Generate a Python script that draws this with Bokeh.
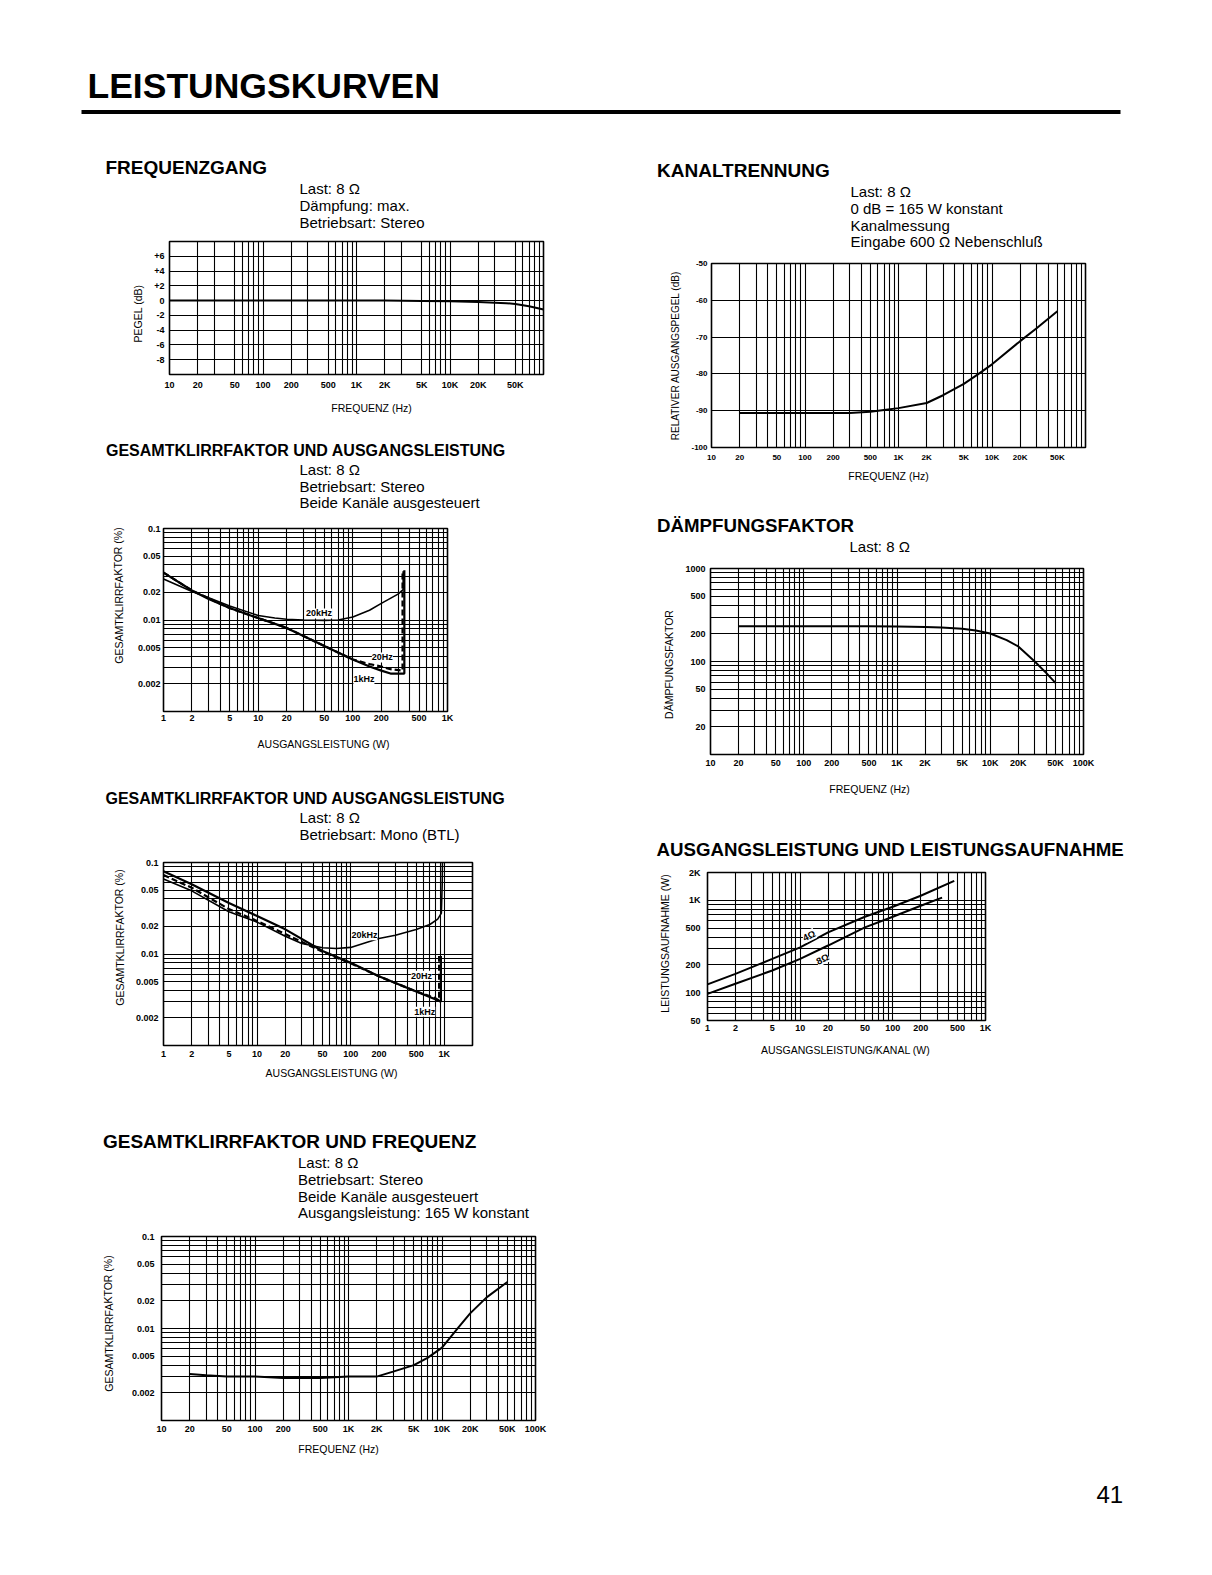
import math
from bokeh.plotting import figure
from bokeh.models import Range1d, FixedTicker, Label, ColumnDataSource, Spacer
from bokeh.layouts import column, row
from bokeh.embed import file_html
from bokeh.resources import INLINE
from bokeh.core.properties import value

FONT = "Liberation Sans"

# ------------------------------------------------------------------ data
page_title = "LEISTUNGSKURVEN"
page_number = "41"

freq_ticks = [10, 20, 50, 100, 200, 500, 1000, 2000, 5000, 10000, 20000, 50000, 100000]
freq_labels = ["10", "20", "50", "100", "200", "500", "1K", "2K", "5K", "10K", "20K", "50K", "100K"]
watt_ticks = [1, 2, 5, 10, 20, 50, 100, 200, 500, 1000]
watt_labels = ["1", "2", "5", "10", "20", "50", "100", "200", "500", "1K"]
thd_ticks = [0.1, 0.05, 0.02, 0.01, 0.005, 0.002]
thd_labels = ["0.1", "0.05", "0.02", "0.01", "0.005", "0.002"]

# 1 Frequenzgang
fg_title = "FREQUENZGANG"
fg_notes = ["Last: 8 Ω", "Dämpfung: max.", "Betriebsart: Stereo"]
fg_freq = [10, 20, 50, 100, 200, 500, 1000, 2000, 5000, 10000, 20000, 40000, 50000, 70000, 100000]
fg_level = [0.0, 0.0, 0.0, 0.0, 0.0, 0.0, 0.0, 0.0, -0.05, -0.1, -0.2, -0.35, -0.45, -0.75, -1.2]
fg_yticks = [6, 4, 2, 0, -2, -4, -6, -8]
fg_ylabels = ["+6", "+4", "+2", "0", "-2", "-4", "-6", "-8"]

# 2 THD vs output power, stereo
st_title = "GESAMTKLIRRFAKTOR UND AUSGANGSLEISTUNG"
st_notes = ["Last: 8 Ω", "Betriebsart: Stereo", "Beide Kanäle ausgesteuert"]
st_w_1k = [1, 2, 3, 5, 10, 20, 50, 100, 150, 200, 250, 350, 350]
st_thd_1k = [0.033, 0.021, 0.017, 0.0135, 0.0105, 0.0082, 0.0052, 0.0037, 0.0031, 0.0028, 0.0026, 0.0026, 0.035]
st_w_20 = [1, 2, 5, 10, 20, 50, 100, 150, 200, 250, 335, 335]
st_thd_20 = [0.033, 0.021, 0.0135, 0.0105, 0.0082, 0.0052, 0.0037, 0.0033, 0.0031, 0.0029, 0.0028, 0.034]
st_w_20k = [1, 2, 3, 5, 10, 15, 20, 30, 50, 70, 100, 150, 200, 300, 340, 340]
st_thd_20k = [0.028, 0.0205, 0.0175, 0.0142, 0.0112, 0.0105, 0.0102, 0.0100, 0.0099, 0.0100,
              0.0108, 0.0128, 0.0152, 0.0192, 0.0215, 0.034]
st_curve_names = ["20kHz", "20Hz", "1kHz"]
st_name_w = [44, 205, 131]
st_name_thd = [0.0118, 0.0039, 0.00227]

# 3 THD vs output power, mono (BTL)
mo_title = "GESAMTKLIRRFAKTOR UND AUSGANGSLEISTUNG"
mo_notes = ["Last: 8 Ω", "Betriebsart: Mono (BTL)"]
mo_w_1k = [1, 2, 5, 10, 20, 50, 100, 200, 500, 800, 920, 920]
mo_thd_1k = [0.08, 0.058, 0.036, 0.026, 0.0186, 0.0108, 0.008, 0.0057, 0.0039, 0.0032, 0.003, 0.0095]
mo_w_20 = [1, 2, 5, 10, 20, 50, 100, 200, 500, 800, 880, 880]
mo_thd_20 = [0.073, 0.053, 0.031, 0.023, 0.0165, 0.0106, 0.0079, 0.0057, 0.0039, 0.0033, 0.0031, 0.0095]
mo_w_20k = [1, 2, 5, 10, 20, 30, 50, 70, 100, 200, 300, 500, 700, 850, 930, 950, 955]
mo_thd_20k = [0.066, 0.049, 0.029, 0.0223, 0.0156, 0.013, 0.0117, 0.0115, 0.0118, 0.0148,
              0.016, 0.0185, 0.021, 0.024, 0.028, 0.06, 0.1]
mo_curve_names = ["20kHz", "20Hz", "1kHz"]
mo_name_w = [140, 569, 618]
mo_name_thd = [0.016, 0.0058, 0.00234]

# 4 THD vs frequency
tf_title = "GESAMTKLIRRFAKTOR UND FREQUENZ"
tf_notes = ["Last: 8 Ω", "Betriebsart: Stereo", "Beide Kanäle ausgesteuert",
            "Ausgangsleistung: 165 W konstant"]
tf_freq = [20, 30, 50, 100, 200, 500, 1000, 2000, 3000, 5000, 7000, 10000, 15000, 20000, 30000, 50000]
tf_thd = [0.0032, 0.0031, 0.003, 0.003, 0.0029, 0.0029, 0.003, 0.003, 0.0034, 0.004, 0.0048,
          0.0062, 0.0103, 0.0146, 0.0218, 0.032]

# 5 Kanaltrennung
kt_title = "KANALTRENNUNG"
kt_notes = ["Last: 8 Ω", "0 dB = 165 W konstant", "Kanalmessung", "Eingabe 600 Ω Nebenschluß"]
kt_freq = [20, 50, 100, 200, 300, 500, 700, 1000, 2000, 3000, 5000, 7000, 10000, 20000, 30000, 50000]
kt_level = [-90.6, -90.6, -90.6, -90.6, -90.6, -90.3, -89.8, -89.3, -87.9, -85.8, -82.7, -80.2,
            -77.4, -71.1, -67.6, -63.0]
kt_yticks = [-50, -60, -70, -80, -90, -100]
kt_ylabels = ["-50", "-60", "-70", "-80", "-90", "-100"]

# 6 Dämpfungsfaktor
df_title = "DÄMPFUNGSFAKTOR"
df_notes = ["Last: 8 Ω"]
df_freq = [20, 100, 500, 1000, 2000, 3000, 5000, 7000, 10000, 15000, 20000, 30000, 40000, 50000]
df_factor = [240, 240, 240, 238, 235, 232, 225, 215, 200, 170, 145, 100, 75, 59]
df_yticks = [1000, 500, 200, 100, 50, 20]
df_ylabels = ["1000", "500", "200", "100", "50", "20"]

# 7 Ausgangsleistung und Leistungsaufnahme
pa_title = "AUSGANGSLEISTUNG UND LEISTUNGSAUFNAHME"
pa_w_4 = [1, 2, 5, 10, 20, 50, 100, 200, 460]
pa_p_4 = [123, 160, 232, 310, 450, 664, 851, 1120, 1626]
pa_w_8 = [1, 2, 5, 10, 20, 50, 100, 200, 340]
pa_p_8 = [97, 125, 174, 232, 324, 509, 664, 873, 1070]
pa_yticks = [2000, 1000, 500, 200, 100, 50]
pa_ylabels = ["2K", "1K", "500", "200", "100", "50"]
pa_curve_names = ["4Ω", "8Ω"]
pa_name_w = [12.5, 17.4]
pa_name_p = [415, 232]


# ------------------------------------------------------------------ helpers
def log_grid(lo, hi, mults=(1, 2, 3, 4, 5, 6, 7, 8, 9)):
    out = []
    d = 10 ** math.floor(math.log10(lo) - 1e-9)
    while d <= hi * 1.0001:
        for m in mults:
            v = round(d * m, 10)
            if lo * 0.9999 <= v <= hi * 1.0001:
                out.append(v)
        d *= 10
    return out


def T(x, y, text, size, bold=False, align="left", angle=0.0):
    """text item; y is the vertical middle of the capitals (page px)"""
    return dict(x=x, y=y, text=text, size=f"{size}px", style="bold" if bold else "normal",
                align=align, angle=angle)


def text_fig(x0, y0, x1, y1, items):
    """blank panel whose frame covers the whole canvas; coordinates = page pixels"""
    p = figure(width=int(x1 - x0), height=int(y1 - y0),
               x_range=Range1d(x0, x1), y_range=Range1d(y1, y0),
               output_backend="svg", toolbar_location=None, min_border=0,
               x_axis_location=None, y_axis_location=None, frame_align=False)
    p.grid.visible = False
    p.outline_line_color = None
    p.background_fill_color = "white"
    p.border_fill_color = "white"
    if items:
        src = ColumnDataSource({k: [it[k] for it in items] for k in items[0]})
        p.text(x="x", y="y", text="text", source=src, text_font=value(FONT),
               text_font_size="size", text_font_style="style", text_align="align",
               text_baseline=value("middle"), angle="angle", text_color="black")
    return p


def chart(cl, ct, cr, cb, frame, xr, yr, xlog, ylog, xgrid, ygrid,
          xticks, xlabels, yticks, ylabels, xlab_c, ylab_r, tick_fs=9.0):
    fl, ft, fr, fb = frame
    p = figure(width=cr - cl, height=cb - ct,
               x_axis_type="log" if xlog else "linear",
               y_axis_type="log" if ylog else "linear",
               x_range=Range1d(*xr), y_range=Range1d(*yr),
               output_backend="svg", toolbar_location=None, frame_align=False,
               min_border_left=fl - cl, min_border_right=cr - fr,
               min_border_top=ft - ct, min_border_bottom=cb - fb)
    p.background_fill_color = "white"
    p.border_fill_color = "white"
    p.outline_line_color = "black"
    p.outline_line_width = 1.6
    xa, ya = p.xaxis[0], p.yaxis[0]
    for ax in (xa, ya):
        ax.major_tick_line_color = None
        ax.minor_tick_line_color = None
        ax.major_tick_out = 0
        ax.major_tick_in = 0
        ax.minor_tick_out = 0
        ax.minor_tick_in = 0
        ax.axis_line_color = None
        ax.major_label_text_font = FONT
        ax.major_label_text_font_style = "bold"
        ax.major_label_text_font_size = f"{tick_fs}px"
        ax.major_label_text_color = "black"
    xa.ticker = FixedTicker(ticks=xticks)
    xa.major_label_overrides = dict(zip(xticks, xlabels))
    ya.ticker = FixedTicker(ticks=yticks)
    ya.major_label_overrides = dict(zip(yticks, ylabels))
    xa.major_label_standoff = max(0, round(xlab_c - fb - 0.547 * tick_fs))
    ya.major_label_standoff = max(0, round(fl - ylab_r))
    p.xgrid[0].ticker = FixedTicker(ticks=xgrid)
    p.ygrid[0].ticker = FixedTicker(ticks=ygrid)
    for g in (p.xgrid[0], p.ygrid[0]):
        g.grid_line_color = "black"
        g.grid_line_width = 1.1
        g.grid_line_alpha = 1.0
    return p


def curve_label(p, x, y, text, size=9, angle=0.0):
    p.add_layout(Label(x=x, y=y, text=text, text_font=FONT, text_font_size=f"{size}px",
                       text_font_style="bold", text_align="center", text_baseline="middle",
                       background_fill_color="white", angle=angle, text_color="black"))


def block(bx0, by0, bx1, by1, cbox, chart_fig, top_items, left_items, bottom_items):
    cl, ct, cr, cb = cbox
    top = text_fig(bx0, by0, bx1, ct, top_items)
    left = text_fig(bx0, ct, cl, cb, left_items)
    right = Spacer(width=bx1 - cr, height=cb - ct)
    bottom = text_fig(bx0, cb, bx1, by1, bottom_items)
    return column(top, row(left, chart_fig, right), bottom)


def notes(x, base0, lines, step=17, size=15):
    return [T(x, base0 + i * step - 0.35 * size, s, size) for i, s in enumerate(lines)]


freq_grid = log_grid(10, 100000)
freq_grid_no4 = log_grid(10, 100000, (1, 2, 3, 5, 6, 7, 8, 9))
thd_grid = log_grid(0.001, 0.1)
ROT = math.pi / 2

# ------------------------------------------------------------------ header
hdr = text_fig(0, 0, 1204, 130, [T(87, 85, page_title, 35.5, bold=True)])
hdr.segment(x0=[81], y0=[111.5], x1=[1120], y1=[111.5], line_width=4, line_color="black")

# ------------------------------------------------------------------ left column
c1 = (146, 236, 560, 396)
f1 = chart(*c1, (169, 241, 543, 374), (10, 100000), (-10, 8), True, False,
           freq_grid_no4, fg_yticks, freq_ticks[:-1], freq_labels[:-1], fg_yticks, fg_ylabels,
           384, 164)
f1.line(fg_freq, fg_level, line_width=2, line_color="black")
b1 = block(0, 130, 600, 425, c1, f1,
           [T(105, 166.5, fg_title, 19, bold=True)] + notes(299, 193, fg_notes),
           [T(137, 313, "PEGEL (dB)", 10.5, align="center", angle=ROT)],
           [T(371, 407, "FREQUENZ (Hz)", 10.5, align="center")])

c2 = (130, 518, 470, 730)
f2 = chart(*c2, (163, 528, 447, 711), (1, 1000), (0.001, 0.1), True, True,
           log_grid(1, 1000), thd_grid, watt_ticks, watt_labels, thd_ticks, thd_labels,
           716.5, 160)
f2.line(st_w_20k, st_thd_20k, line_width=1.6, line_color="black")
f2.line(st_w_1k, st_thd_1k, line_width=2.2, line_color="black")
f2.line(st_w_20, st_thd_20, line_width=2.2, line_color="black", line_dash="6 3")
for n, x, y in zip(st_curve_names, st_name_w, st_name_thd):
    curve_label(f2, x, y, n)
b2 = block(0, 425, 600, 775, c2, f2,
           [T(105.5, 450, st_title, 16, bold=True)] + notes(299, 474, st_notes, step=16.8),
           [T(118, 595, "GESAMTKLIRRFAKTOR (%)", 10.5, align="center", angle=ROT)],
           [T(323, 743, "AUSGANGSLEISTUNG (W)", 10.5, align="center")])

c3 = (130, 848, 490, 1062)
f3 = chart(*c3, (163, 862, 472, 1045), (1, 2000), (0.001, 0.1), True, True,
           log_grid(1, 2000), thd_grid, watt_ticks, watt_labels, thd_ticks, thd_labels,
           1053, 158)
f3.line(mo_w_20k, mo_thd_20k, line_width=1.6, line_color="black")
f3.line(mo_w_1k, mo_thd_1k, line_width=2.2, line_color="black")
f3.line(mo_w_20, mo_thd_20, line_width=2.2, line_color="black", line_dash="6 3")
for n, x, y in zip(mo_curve_names, mo_name_w, mo_name_thd):
    curve_label(f3, x, y, n)
b3 = block(0, 775, 600, 1110, c3, f3,
           [T(105, 797.5, mo_title, 16, bold=True)] + notes(299, 822.5, mo_notes, step=17.2),
           [T(119, 937, "GESAMTKLIRRFAKTOR (%)", 10.5, align="center", angle=ROT)],
           [T(331, 1072, "AUSGANGSLEISTUNG (W)", 10.5, align="center")])

c4 = (122, 1226, 560, 1437)
f4 = chart(*c4, (161, 1236, 535, 1420), (10, 100000), (0.001, 0.1), True, True,
           freq_grid, thd_grid, freq_ticks, freq_labels, thd_ticks, thd_labels,
           1428, 154)
f4.line(tf_freq, tf_thd, line_width=2, line_color="black")
b4 = block(0, 1110, 600, 1470, c4, f4,
           [T(102.5, 1141, tf_title, 19, bold=True)] + notes(297.5, 1167.5, tf_notes, step=16.7),
           [T(108, 1323, "GESAMTKLIRRFAKTOR (%)", 10.5, align="center", angle=ROT)],
           [T(338, 1448, "FREQUENZ (Hz)", 10.5, align="center")])

# ------------------------------------------------------------------ right column
c5 = (686, 254, 1100, 465)
r1 = chart(*c5, (711, 263, 1085, 447), (10, 100000), (-100, -50), True, False,
           freq_grid, [-60, -70, -80, -90], freq_ticks[:-1], freq_labels[:-1], kt_yticks, kt_ylabels,
           456, 707, tick_fs=8)
r1.line(kt_freq, kt_level, line_width=2, line_color="black")
b5 = block(600, 130, 1204, 500, c5, r1,
           [T(656.5, 169.5, kt_title, 19, bold=True)] + notes(850, 196, kt_notes, step=16.9),
           [T(675, 355, "RELATIVER AUSGANGSPEGEL (dB)", 10, align="center", angle=ROT)],
           [T(888, 475, "FREQUENZ (Hz)", 10.5, align="center")])

c6 = (680, 559, 1104, 774)
r2 = chart(*c6, (710, 568, 1083, 754), (10, 100000), (10, 1000), True, True,
           freq_grid, log_grid(10, 1000), freq_ticks, freq_labels, df_yticks, df_ylabels,
           762, 705)
r2.line(df_freq, df_factor, line_width=2, line_color="black")
b6 = block(600, 500, 1204, 810, c6, r2,
           [T(656.5, 524.5, df_title, 18.7, bold=True)] + notes(849, 551, df_notes),
           [T(668, 664, "DÄMPFUNGSFAKTOR", 10.5, align="center", angle=ROT)],
           [T(869, 788, "FREQUENZ (Hz)", 10.5, align="center")])

c7 = (678, 862, 1000, 1037)
r3 = chart(*c7, (707, 872, 985, 1020), (1, 1000), (50, 2000), True, True,
           log_grid(1, 1000), log_grid(50, 2000), watt_ticks, watt_labels, pa_yticks, pa_ylabels,
           1027, 700)
r3.line(pa_w_4, pa_p_4, line_width=2, line_color="black")
r3.line(pa_w_8, pa_p_8, line_width=2, line_color="black")
for n, x, y in zip(pa_curve_names, pa_name_w, pa_name_p):
    curve_label(r3, x, y, n, size=9.5, angle=0.45)
b7 = block(600, 810, 1204, 1520, c7, r3,
           [T(656, 848.5, pa_title, 18.7, bold=True)],
           [T(664, 943, "LEISTUNGSAUFNAHME (W)", 10.5, align="center", angle=ROT)],
           [T(845, 1049, "AUSGANGSLEISTUNG/KANAL (W)", 10.5, align="center"),
            T(1096, 1494, page_number, 24)])

layout = column(hdr, row(column(b1, b2, b3, b4), column(b5, b6, b7)))

with open("out.html", "w", encoding="utf-8") as fh:
    fh.write(file_html(layout, INLINE))
